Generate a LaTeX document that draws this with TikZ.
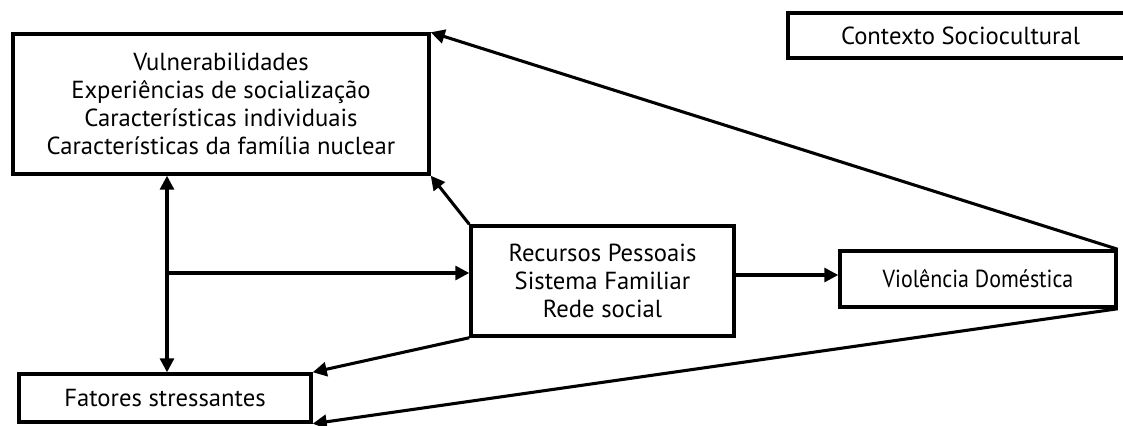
\documentclass[tikz,border=0pt]{standalone}
\usepackage{fontspec}
\setmainfont{PT Sans}
\newfontfamily\narrowfont[FakeStretch=0.89]{PT Sans}
\usetikzlibrary{arrows.meta}
\tikzset{
  boxnode/.style={draw=black, line width=2.6pt, rectangle, inner sep=0pt, align=center,
    font=\fontsize{18.5}{21}\selectfont},
  arr/.style={draw=black, line width=2.3pt, -{Triangle[length=10.5pt,width=10.5pt]}},
  darr/.style={draw=black, line width=2.3pt, {Triangle[length=10.5pt,width=10.5pt]}-{Triangle[length=10.5pt,width=10.5pt]}}
}
\begin{document}
\begin{tikzpicture}[x=0.75pt,y=-0.75pt]
\useasboundingbox (0,0) rectangle (1123,425);
\node[boxnode, minimum width=416*0.75pt, minimum height=140*0.75pt] (vul) at (221,104)
  {Vulnerabilidades\\Experiências de socialização\\Características individuais\\Características da família nuclear};
\node[boxnode, minimum width=345*0.75pt, minimum height=45*0.75pt] (ctx) at (960.5,35.5) {Contexto Sociocultural};
\node[boxnode, minimum width=263*0.75pt, minimum height=110*0.75pt] (rec) at (602.5,281)
  {Recursos Pessoais\\Sistema Familiar\\Rede social};
\node[boxnode, minimum width=276*0.75pt, minimum height=56*0.75pt, font=\narrowfont\fontsize{18.5}{21}\selectfont] (vio) at (978,279) {Violência Doméstica};
\node[boxnode, minimum width=292*0.75pt, minimum height=48*0.75pt] (fat) at (165,398) {Fatores stressantes};
\coordinate (vx) at (167,0);
\coordinate (hs) at (167,273);
\coordinate (ay) at (0,275);
\draw[darr] (vul.south -| vx) -- (fat.north -| vx);
\draw[arr] (hs) -- (hs -| rec.west);
\draw[arr] (rec.north west) -- (vul.south east);
\draw[arr] (rec.south west) -- (fat.north east);
\draw[arr] (rec.east |- ay) -- (vio.west |- ay);
\draw[arr] (vio.north east) -- (vul.north east);
\draw[arr] (vio.south east) -- (fat.south east);
\end{tikzpicture}
\end{document}
